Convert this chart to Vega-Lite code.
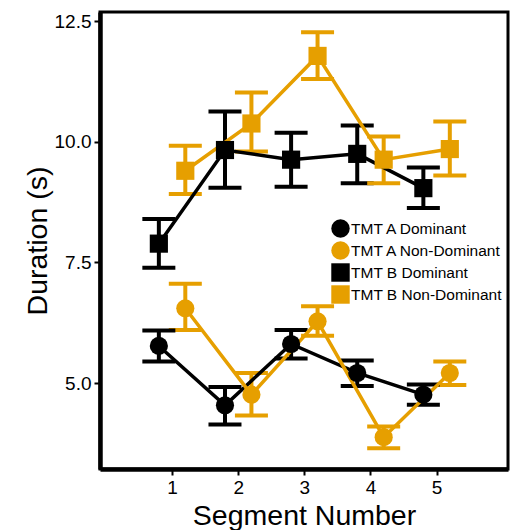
{
  "$schema": "https://vega.github.io/schema/vega-lite/v6.json",
  "width": 408,
  "height": 457,
  "autosize": {"type": "none"},
  "padding": {"left": 100, "top": 12, "right": 2, "bottom": 61},
  "background": "white",
  "config": {
    "font": "Liberation Sans",
    "view": {"stroke": "black", "strokeWidth": 3},
    "axis": {
      "grid": false,
      "domainColor": "black",
      "domainWidth": 4.5,
      "tickColor": "black",
      "tickWidth": 2,
      "tickSize": 6,
      "labelColor": "black",
      "labelFont": "Liberation Sans",
      "labelFontSize": 19,
      "labelPadding": 3,
      "titleColor": "black",
      "titleFont": "Liberation Sans",
      "titleFontSize": 28.5,
      "titleFontWeight": "normal"
    },
    "legend": {
      "title": null,
      "orient": "none",
      "legendX": 231,
      "legendY": 207,
      "padding": 0,
      "symbolSize": 340,
      "symbolStrokeWidth": 0,
      "rowPadding": 3,
      "labelOffset": 1,
      "labelFontSize": 15.5,
      "labelFont": "Liberation Sans",
      "labelColor": "black",
      "labelLimit": 300
    }
  },
  "data": {
    "values": [
      {"group": "TMT A Dominant", "hand": "Dominant", "segment": 1, "mean": 5.77, "lo": 5.45, "hi": 6.09},
      {"group": "TMT A Dominant", "hand": "Dominant", "segment": 2, "mean": 4.54, "lo": 4.14, "hi": 4.92},
      {"group": "TMT A Dominant", "hand": "Dominant", "segment": 3, "mean": 5.81, "lo": 5.51, "hi": 6.1},
      {"group": "TMT A Dominant", "hand": "Dominant", "segment": 4, "mean": 5.21, "lo": 4.94, "hi": 5.47},
      {"group": "TMT A Dominant", "hand": "Dominant", "segment": 5, "mean": 4.76, "lo": 4.55, "hi": 4.97},
      {"group": "TMT B Dominant", "hand": "Dominant", "segment": 1, "mean": 7.89, "lo": 7.39, "hi": 8.4},
      {"group": "TMT B Dominant", "hand": "Dominant", "segment": 2, "mean": 9.83, "lo": 9.05, "hi": 10.63},
      {"group": "TMT B Dominant", "hand": "Dominant", "segment": 3, "mean": 9.63, "lo": 9.07, "hi": 10.19},
      {"group": "TMT B Dominant", "hand": "Dominant", "segment": 4, "mean": 9.75, "lo": 9.14, "hi": 10.34},
      {"group": "TMT B Dominant", "hand": "Dominant", "segment": 5, "mean": 9.04, "lo": 8.63, "hi": 9.47},
      {"group": "TMT A Non-Dominant", "hand": "Non-Dominant", "segment": 1, "mean": 6.55, "lo": 6.1, "hi": 7.06},
      {"group": "TMT A Non-Dominant", "hand": "Non-Dominant", "segment": 2, "mean": 4.76, "lo": 4.33, "hi": 5.21},
      {"group": "TMT A Non-Dominant", "hand": "Non-Dominant", "segment": 3, "mean": 6.28, "lo": 5.98, "hi": 6.59},
      {"group": "TMT A Non-Dominant", "hand": "Non-Dominant", "segment": 4, "mean": 3.88, "lo": 3.65, "hi": 4.1},
      {"group": "TMT A Non-Dominant", "hand": "Non-Dominant", "segment": 5, "mean": 5.21, "lo": 4.96, "hi": 5.45},
      {"group": "TMT B Non-Dominant", "hand": "Non-Dominant", "segment": 1, "mean": 9.4, "lo": 8.92, "hi": 9.92},
      {"group": "TMT B Non-Dominant", "hand": "Non-Dominant", "segment": 2, "mean": 10.38, "lo": 9.8, "hi": 11.02},
      {"group": "TMT B Non-Dominant", "hand": "Non-Dominant", "segment": 3, "mean": 11.78, "lo": 11.3, "hi": 12.27},
      {"group": "TMT B Non-Dominant", "hand": "Non-Dominant", "segment": 4, "mean": 9.63, "lo": 9.14, "hi": 10.11},
      {"group": "TMT B Non-Dominant", "hand": "Non-Dominant", "segment": 5, "mean": 9.85, "lo": 9.3, "hi": 10.42}
    ]
  },
  "transform": [
    {"calculate": "datum.segment + (datum.hand === 'Dominant' ? -0.2 : 0.2)", "as": "xpos"}
  ],
  "encoding": {
    "x": {
      "field": "xpos",
      "type": "quantitative",
      "scale": {"domain": [-0.09, 6.08], "nice": false, "zero": false},
      "axis": {"values": [1, 2, 3, 4, 5], "format": "d", "title": "Segment Number", "titlePadding": 4}
    },
    "color": {
      "field": "group",
      "type": "nominal",
      "scale": {
        "domain": ["TMT A Dominant", "TMT A Non-Dominant", "TMT B Dominant", "TMT B Non-Dominant"],
        "range": ["#000000", "#E69F00", "#000000", "#E69F00"]
      }
    }
  },
  "layer": [
    {
      "mark": {"type": "errorbar", "opacity": 1, "ticks": {"size": 33, "thickness": 4, "opacity": 1}, "rule": {"strokeWidth": 4, "opacity": 1}, "thickness": 4},
      "encoding": {
        "y": {
          "field": "lo",
          "type": "quantitative",
          "scale": {"domain": [3.22, 12.69], "nice": false, "zero": false},
          "axis": {"values": [5, 7.5, 10, 12.5], "format": ".1f", "title": "Duration (s)", "titlePadding": 2}
        },
        "y2": {"field": "hi"}
      }
    },
    {
      "mark": {"type": "line", "strokeWidth": 3.5},
      "encoding": {
        "y": {"field": "mean", "type": "quantitative"},
        "detail": {"field": "group"}
      }
    },
    {
      "mark": {"type": "point", "filled": true, "opacity": 1, "size": 330},
      "encoding": {
        "y": {"field": "mean", "type": "quantitative"},
        "shape": {
          "field": "group",
          "type": "nominal",
          "scale": {
            "domain": ["TMT A Dominant", "TMT A Non-Dominant", "TMT B Dominant", "TMT B Non-Dominant"],
            "range": ["circle", "circle", "square", "square"]
          }
        }
      }
    }
  ]
}
